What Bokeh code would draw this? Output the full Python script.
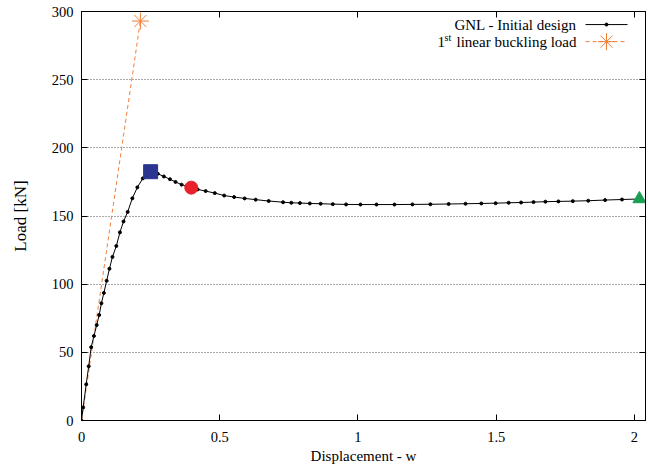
from bokeh.plotting import figure
from bokeh.models import LinearAxis, FixedTicker, Label, Range1d
from bokeh.embed import file_html
from bokeh.resources import INLINE

# --- data ---
gnl_x = [0, 0.006, 0.017, 0.026, 0.035, 0.045, 0.055, 0.064, 0.072, 0.081, 0.091,
         0.101, 0.112, 0.126, 0.139, 0.152, 0.167, 0.184, 0.202, 0.222, 0.25,
         0.276, 0.298, 0.32, 0.34, 0.362, 0.397, 0.42, 0.449, 0.482, 0.516, 0.552,
         0.59, 0.63, 0.677, 0.729, 0.759, 0.79, 0.826, 0.865, 0.909, 0.957, 1.009,
         1.067, 1.132, 1.197, 1.262, 1.328, 1.389, 1.446, 1.498, 1.545, 1.59, 1.635,
         1.678, 1.725, 1.777, 1.833, 1.894, 1.955, 2.018]
gnl_y = [0, 9.6, 26.5, 39.8, 53.8, 62, 70, 77.4, 86, 93.6, 102.5,
         111.3, 120, 128, 138, 146, 153, 163, 171, 177.6, 182.5,
         181, 179, 177, 175, 173, 170.8, 169.5, 168.3, 166.8, 165, 163.9,
         162.9, 162, 161, 160.1, 159.7, 159.5, 159.2, 159.0, 158.7, 158.5, 158.4,
         158.4, 158.4, 158.5, 158.6, 158.8, 159.0, 159.2, 159.4, 159.7, 159.9, 160.2,
         160.5, 160.7, 160.9, 161.2, 161.7, 162.1, 162.5]
buck_x = [0, 0.213]
buck_y = [0, 293]
limit_pt = (0.25, 182.5)       # square
post_pt = (0.397, 170.8)       # circle
end_pt = (2.018, 162.5)        # triangle

xticks = [0, 0.5, 1, 1.5, 2]
xtick_labels = ["0", "0.5", "1", "1.5", "2"]
yticks = [0, 50, 100, 150, 200, 250, 300]
yrange = (0, 300)
xrange_ = (0, 2.04)

FONT = "Liberation Serif"
ORANGE = "#f07f3a"

p = figure(width=648, height=468, output_backend="svg", toolbar_location=None,
           x_range=Range1d(*xrange_), y_range=Range1d(*yrange),
           min_border_left=81, min_border_right=3, min_border_top=11, min_border_bottom=48,
           x_axis_label="Displacement - w", y_axis_label="Load [kN]")
p.outline_line_color = "black"
p.outline_line_width = 1
p.xgrid.visible = False
p.ygrid.grid_line_color = "#555555"
p.ygrid.grid_line_dash = "1 2"
p.ygrid.grid_line_width = 1
p.ygrid.ticker = FixedTicker(ticks=yticks)
p.background_fill_color = "white"
p.border_fill_color = "white"

for ax in p.xaxis:
    ax.ticker = FixedTicker(ticks=xticks)
    ax.major_label_overrides = {t: l for t, l in zip(xticks, xtick_labels)}
    ax.major_label_standoff = 11
    ax.axis_label_standoff = 3
    ax.axis_label_text_font_size = "15px"
for ax in p.yaxis:
    ax.ticker = FixedTicker(ticks=yticks)
    ax.major_label_standoff = 8
    ax.axis_label_standoff = 19
    ax.axis_label_text_font_size = "17px"
for ax in list(p.xaxis) + list(p.yaxis):
    ax.major_tick_in = 6
    ax.major_tick_out = 0
    ax.minor_tick_line_color = None
    ax.axis_line_color = "black"
    ax.major_label_text_font = FONT
    ax.major_label_text_font_size = "14.5px"
    ax.major_label_text_color = "black"
    ax.axis_label_text_font = FONT
    ax.axis_label_text_font_style = "normal"
    ax.axis_label_text_color = "black"

# mirror ticks on top and right (no labels)
top = LinearAxis(ticker=FixedTicker(ticks=xticks), major_label_text_font_size="0px",
                 major_tick_in=6, major_tick_out=0, minor_tick_line_color=None,
                 major_label_standoff=0)
right = LinearAxis(ticker=FixedTicker(ticks=yticks), major_label_text_font_size="0px",
                   major_tick_in=6, major_tick_out=0, minor_tick_line_color=None,
                   major_label_standoff=0)
top.major_label_text_color = None
right.major_label_text_color = None
p.add_layout(top, "above")
p.add_layout(right, "right")

# buckling line
p.line(buck_x, buck_y, line_color=ORANGE, line_dash="4 3", line_width=1)
p.scatter([buck_x[-1]], [buck_y[-1]], marker="asterisk", size=17, line_color=ORANGE, line_width=1)

# GNL curve
p.line(gnl_x, gnl_y, line_color="black", line_width=1)
p.scatter(gnl_x, gnl_y, size=3, color="black")

p.scatter([limit_pt[0]], [limit_pt[1]], marker="square", size=14, color="#2b3590")
p.scatter([post_pt[0]], [post_pt[1]], marker="circle", size=13, color="#e8212a")
p.scatter([end_pt[0]], [end_pt[1]], marker="triangle", size=13, color="#1a9f55")

# manual legend (gnuplot style: text on the left, sample on the right)
# frame in picture pixels
fl, fr, ft, fb = 81.0, 645.0, 13.0, 420.0
def dx(sx):
    return xrange_[0] + (sx - fl) / (fr - fl) * (xrange_[1] - xrange_[0])
def dy(sy):
    return yrange[0] + (fb - sy) / (fb - ft) * (yrange[1] - yrange[0])

def lab(sx, sy, text, size="15px", align="right"):
    return Label(x=dx(sx), y=dy(sy), text=text, text_font=FONT, text_font_size=size,
                 text_align=align, text_baseline="middle", text_color="black")

p.add_layout(lab(576, 26, "GNL - Initial design"))
p.add_layout(lab(576, 43, "linear buckling load"))
p.add_layout(lab(437, 43, "1", align="left"))
p.add_layout(lab(444, 39, "st", size="10px", align="left"))

p.line([dx(585), dx(627)], [dy(26), dy(26)], line_color="black", line_width=1)
p.scatter([dx(606)], [dy(26)], size=3, color="black")
p.line([dx(585), dx(627)], [dy(43), dy(43)], line_color=ORANGE, line_width=1, line_dash="4 3")
p.scatter([dx(606)], [dy(43)], marker="asterisk", size=17, line_color=ORANGE, line_width=1)

open("out.html", "w").write(file_html(p, INLINE))
